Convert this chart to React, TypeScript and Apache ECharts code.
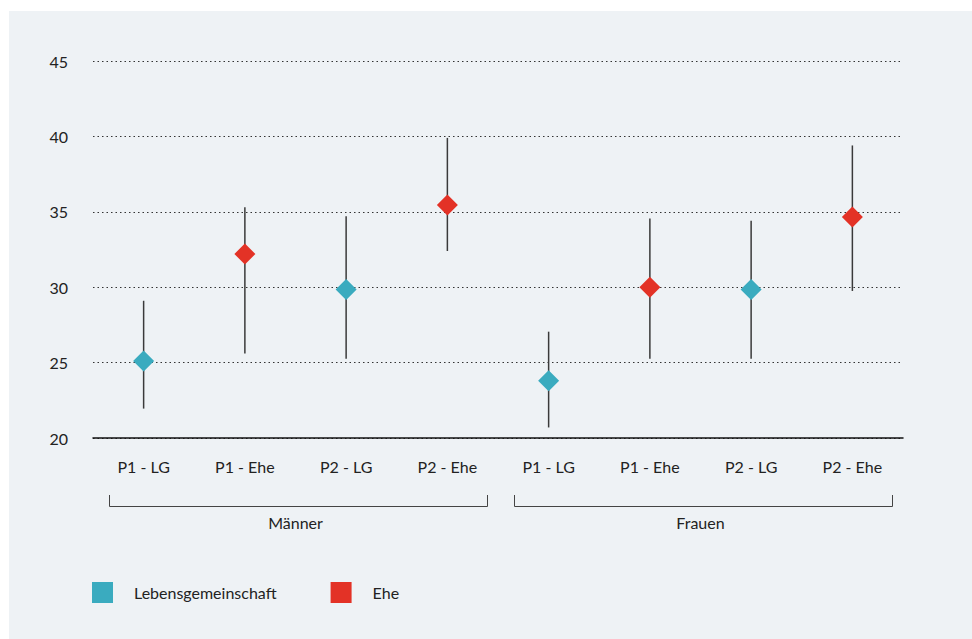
import React, { useEffect, useRef } from "react";
import * as echarts from "echarts";

const categories = ["P1 - LG", "P1 - Ehe", "P2 - LG", "P2 - Ehe", "P1 - LG", "P1 - Ehe", "P2 - LG", "P2 - Ehe"];
const groups = ["Männer", "Frauen"];
const seriesNames = ["Lebensgemeinschaft", "Ehe"];
// central values per category
const centerValues = [25.1, 32.2, 29.85, 35.45, 23.8, 30.0, 29.85, 34.65];
const lowValues = [21.95, 25.6, 25.25, 32.4, 20.7, 25.25, 25.25, 29.75];
const highValues = [29.1, 35.3, 34.7, 39.9, 27.05, 34.55, 34.4, 39.4];
// which series each category belongs to (0 = LG, 1 = Ehe)
const seriesOf = [0, 1, 0, 1, 0, 1, 0, 1];
const yTicks = { min: 20, max: 45, interval: 5 };

const COLORS = ["#3aabbf", "#e33226"];
const FONT = "Lato, 'Noto Sans', sans-serif";
const FS = 16;

export default function App() {
  const ref = useRef<HTMLDivElement>(null);
  useEffect(() => {
    if (!ref.current) return;
    const chart = echarts.init(ref.current, null, { renderer: "svg" });
    const errData = categories.map((_, i) => [i, lowValues[i], highValues[i]]);
    const scatterData = (s: number) =>
      centerValues.map((v, i) => (seriesOf[i] === s ? [i, v] : [i, null]));
    chart.setOption({
      animation: false,
      backgroundColor: "#ffffff",
      textStyle: { fontFamily: FONT },
      graphic: [
        { type: "rect", shape: { x: 9, y: 11, width: 963, height: 628 }, style: { fill: "#eef2f5" }, z: -10, silent: true },
        { type: "polyline", shape: { points: [[109.5, 495], [109.5, 506.5], [487.5, 506.5], [487.5, 495]] }, style: { stroke: "#444", lineWidth: 1, fill: null } },
        { type: "polyline", shape: { points: [[514.5, 495], [514.5, 506.5], [892.5, 506.5], [892.5, 495]] }, style: { stroke: "#444", lineWidth: 1, fill: null } },
      ],
      grid: { left: 93, right: 69, top: 61, bottom: 201, containLabel: false },
      legend: {
        left: 87,
        top: 577,
        icon: "rect",
        itemWidth: 21,
        itemHeight: 21,
        itemGap: 54,
        textStyle: { fontSize: FS, color: "#222", fontFamily: FONT, padding: [0, 0, 0, 16] },
        data: seriesNames,
      },
      xAxis: [
        {
          type: "category",
          data: categories,
          axisTick: { show: false },
          axisLine: { lineStyle: { color: "#111", width: 1.5 } },
          axisLabel: { color: "#222", fontSize: FS, margin: 20, fontFamily: FONT },
          splitLine: { show: false },
        },
        {
          type: "category",
          data: groups,
          position: "bottom",
          offset: 76,
          axisTick: { show: false },
          axisLine: { show: false },
          axisLabel: { color: "#222", fontSize: FS, margin: 0, fontFamily: FONT },
        },
      ],
      yAxis: {
        type: "value",
        min: yTicks.min,
        max: yTicks.max,
        interval: yTicks.interval,
        axisLine: { show: false },
        axisTick: { show: false },
        axisLabel: { color: "#222", fontSize: FS, margin: 25, fontFamily: FONT },
        splitLine: { lineStyle: { color: "#333", type: [1.5, 3], width: 1 } },
      },
      series: [
        {
          type: "custom",
          xAxisIndex: 0,
          data: errData,
          z: 1,
          renderItem: (params: any, api: any) => {
            const x = api.value(0);
            const lo = api.coord([x, api.value(1)]);
            const hi = api.coord([x, api.value(2)]);
            return {
              type: "line",
              shape: { x1: lo[0], y1: lo[1], x2: hi[0], y2: hi[1] },
              style: { stroke: "#3a3a3a", lineWidth: 1.5 },
            };
          },
          encode: { x: 0, y: [1, 2] },
        },
        ...seriesNames.map((name, s) => ({
          type: "scatter",
          name,
          xAxisIndex: 0,
          symbol: "diamond",
          symbolSize: 21,
          itemStyle: { color: COLORS[s], opacity: 1 },
          z: 3,
          data: scatterData(s),
        })),
      ],
    });
    return () => chart.dispose();
  }, []);
  return (
    <div style={{ position: "absolute", left: 0, top: 0, width: 972, height: 639 }}>
      <div ref={ref} style={{ width: 972, height: 639 }} />
    </div>
  );
}
